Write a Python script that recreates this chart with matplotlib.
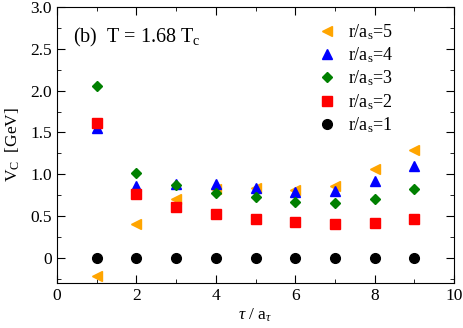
import matplotlib
matplotlib.use("Agg")
import matplotlib.pyplot as plt
from matplotlib.ticker import MultipleLocator

plt.rcParams['font.family'] = ['Liberation Serif', 'DejaVu Serif']
plt.rcParams['mathtext.fontset'] = 'custom'
plt.rcParams['mathtext.rm'] = 'Liberation Serif'
plt.rcParams['mathtext.it'] = 'Liberation Serif:italic'

tau = [1, 2, 3, 4, 5, 6, 7, 8, 9]
v_r1 = [0, 0, 0, 0, 0, 0, 0, 0, 0]
v_r2 = [1.61, 0.76, 0.61, 0.52, 0.47, 0.43, 0.41, 0.42, 0.47]
v_r3 = [2.06, 1.02, 0.87, 0.78, 0.73, 0.67, 0.66, 0.71, 0.82]
v_r4 = [1.55, 0.86, 0.88, 0.88, 0.84, 0.79, 0.80, 0.92, 1.10]
v_r5 = [-0.22, 0.41, 0.71, 0.82, 0.83, 0.81, 0.86, 1.06, 1.29]

fig = plt.figure(figsize=(4.63, 3.28), dpi=100)
ax = fig.add_axes([0.123, 0.137, 0.858, 0.842])

# order matters for legend (5 on top)
ax.plot(tau, v_r5, '<', color='orange', ms=7, mec='orange', label=r'r/a$_\mathrm{s}$=5')
ax.plot(tau, v_r4, '^', color='blue', ms=7, label=r'r/a$_\mathrm{s}$=4')
ax.plot(tau, v_r3, 'D', color='green', ms=5.5, label=r'r/a$_\mathrm{s}$=3')
ax.plot(tau, v_r2, 's', color='red', ms=6.5, label=r'r/a$_\mathrm{s}$=2')
ax.plot(tau, v_r1, 'o', color='black', ms=7, label=r'r/a$_\mathrm{s}$=1')

ax.set_xlim(0, 10)
ax.set_ylim(-0.3, 3.0)
ax.xaxis.set_minor_locator(MultipleLocator(1))
ax.yaxis.set_minor_locator(MultipleLocator(0.25))
ax.tick_params(which='both', direction='in', top=True, right=True, labelsize=12.5)
ax.tick_params(which='major', length=6)
ax.tick_params(which='minor', length=3)
ax.set_yticks([0, 0.5, 1.0, 1.5, 2.0, 2.5, 3.0])
ax.set_yticklabels(['0', '0.5', '1.0', '1.5', '2.0', '2.5', '3.0'])
ax.set_xticks([0, 2, 4, 6, 8, 10])
ax.set_xticklabels(['0', '2', '4', '6', '8', '10'])

ax.set_xlabel(r'$\tau$ / a$_\tau$', fontsize=12.5, labelpad=2)
ax.set_ylabel(r'V$_\mathrm{C}$  [GeV]', fontsize=12.5, labelpad=6)

ax.text(0.4, 2.64, r'(b)  T = 1.68 T$_\mathrm{c}$', fontsize=14.5, va='center')

ax.legend(loc='upper left', bbox_to_anchor=(0.646, 0.945), frameon=False,
          fontsize=13, handletextpad=0.4, labelspacing=0.2, borderpad=0,
          borderaxespad=0, handlelength=1.5)

fig.savefig('out.png', dpi=100)
